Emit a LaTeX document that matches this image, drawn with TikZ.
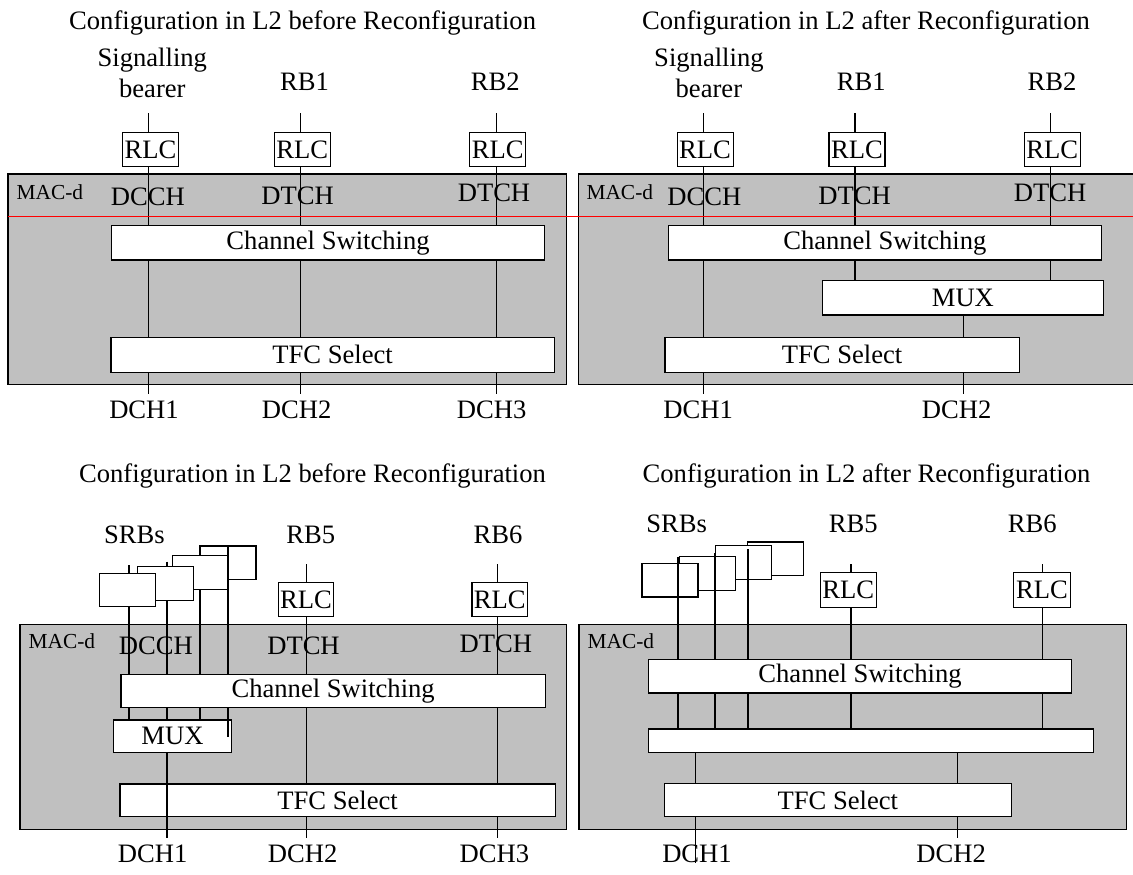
\documentclass[tikz,border=0pt]{standalone}
\usepackage{fontspec}
\setmainfont{Liberation Serif}
\definecolor{macgray}{HTML}{C0C0C0}
\newcommand{\labelfont}{\fontsize{26.6}{31.5}\selectfont}
\newcommand{\macfont}{\fontsize{21.4}{25}\selectfont}

\begin{document}
\begin{tikzpicture}[
		x=1pt, y=-1pt,
		macbox/.style={draw, fill=macgray, line width=1.2pt, inner sep=0pt},
		funcbox/.style={draw, fill=white, line width=1.2pt, inner sep=0pt, font=\labelfont},
		rlcbox/.style={funcbox, minimum width=56pt, minimum height=34.3pt},
		srbbox/.style={draw, fill=white, line width=1.2pt, inner sep=0pt, minimum width=56pt, minimum height=33.5pt},
		txt/.style={inner sep=0pt, anchor=base, font=\labelfont},
		mactxt/.style={inner sep=0pt, anchor=base west, font=\macfont},
		link/.style={line width=1.2pt},
		srblink/.style={line width=1.7pt},
		reconf/.style={red, line width=1.2pt}
	]
		\clip (0,0) rectangle (1133,875);

		\node[macbox, minimum width=558.4pt, minimum height=210.3pt] (mac1) at (287.2,279.15) {};
		\node[mactxt] (macd1) at (16.4,199) {MAC-d};
		\node[txt] (cap1) at (302.6,29.3) {Configuration in L2 before Reconfiguration};
		\node[txt, align=center] (sig1) at (152.3,97.5) {Signalling\\bearer};
		\node[txt] (rb1a) at (304.5,90) {RB1};
		\node[txt] (rb2a) at (495.3,90) {RB2};
		\node[txt] (dcch1) at (147.8,205) {DCCH};
		\node[txt] (dtch1b) at (297.7,204) {DTCH};
		\node[txt] (dtch1c) at (494,201.7) {DTCH};
		\node[txt] (dch1a) at (144,418.7) {DCH1};
		\node[txt] (dch1b) at (296.6,418.7) {DCH2};
		\node[txt] (dch1c) at (491.7,418.7) {DCH3};
		\node[rlcbox] (rlc1a) at (150.5,149.5) {RLC};
		\node[rlcbox] (rlc1b) at (302.3,149.5) {RLC};
		\node[rlcbox] (rlc1c) at (497.8,149.5) {RLC};
		\node[funcbox, minimum width=432.9pt, minimum height=34.3pt] (cs1) at (328.05,242.85) {Channel Switching};
		\node[funcbox, minimum width=443.5pt, minimum height=35pt] (tfc1) at (332.65,354.8) {TFC Select};
		\coordinate (top1a) at (148.3,113.3);
		\coordinate (top1b) at (300.3,113.3);
		\coordinate (top1c) at (496.2,113.3);
		\coordinate (bot1a) at (148.3,394);
		\coordinate (bot1b) at (300.3,394);
		\coordinate (bot1c) at (496.2,394);
		\draw[link] (top1a) -- (top1a |- rlc1a.north) (top1a |- rlc1a.south) -- (top1a |- cs1.north)
			(top1a |- cs1.south) -- (top1a |- tfc1.north) (top1a |- tfc1.south) -- (bot1a);
		\draw[link] (top1b) -- (top1b |- rlc1b.north) (top1b |- rlc1b.south) -- (top1b |- cs1.north)
			(top1b |- cs1.south) -- (top1b |- tfc1.north) (top1b |- tfc1.south) -- (bot1b);
		\draw[link] (top1c) -- (top1c |- rlc1c.north) (top1c |- rlc1c.south) -- (top1c |- cs1.north)
			(top1c |- cs1.south) -- (top1c |- tfc1.north) (top1c |- tfc1.south) -- (bot1c);

		\node[macbox, minimum width=561.7pt, minimum height=210.3pt] (mac2) at (859.15,279.15) {};
		\node[mactxt] (macd2) at (586.3,199) {MAC-d};
		\node[txt] (cap2) at (866,29.3) {Configuration in L2 after Reconfiguration};
		\node[txt, align=center] (sig2) at (708.9,97.5) {Signalling\\bearer};
		\node[txt] (rb1b) at (861.3,90) {RB1};
		\node[txt] (rb2b) at (1051.9,90) {RB2};
		\node[txt] (dcch2) at (704.4,205) {DCCH};
		\node[txt] (dtch2b) at (854.6,204) {DTCH};
		\node[txt] (dtch2c) at (1050,201.7) {DTCH};
		\node[txt] (dch2a) at (698.1,418.7) {DCH1};
		\node[txt] (dch2d) at (956.7,418.7) {DCH2};
		\node[rlcbox] (rlc2a) at (705.1,149.5) {RLC};
		\node[rlcbox] (rlc2b) at (856.9,149.5) {RLC};
		\node[rlcbox] (rlc2c) at (1052.2,149.5) {RLC};
		\node[funcbox, minimum width=432.7pt, minimum height=34.3pt] (cs2) at (884.85,242.85) {Channel Switching};
		\node[funcbox, minimum width=281pt, minimum height=34.3pt] (mux2) at (962.9,297.85) {MUX};
		\node[funcbox, minimum width=354.4pt, minimum height=35pt] (tfc2) at (842.1,354.8) {TFC Select};
		\coordinate (top2a) at (703.3,113.3);
		\coordinate (top2b) at (854.9,113.3);
		\coordinate (top2c) at (1050.4,113.3);
		\coordinate (bot2a) at (703.3,394);
		\coordinate (bot2d) at (963.8,394);
		\draw[link] (top2a) -- (top2a |- rlc2a.north) (top2a |- rlc2a.south) -- (top2a |- cs2.north)
			(top2a |- cs2.south) -- (top2a |- tfc2.north) (top2a |- tfc2.south) -- (bot2a);
		\draw[link] (top2b) -- (top2b |- rlc2b.north) (top2b |- rlc2b.south) -- (top2b |- cs2.north)
			(top2b |- cs2.south) -- (top2b |- mux2.north);
		\draw[link] (top2c) -- (top2c |- rlc2c.north) (top2c |- rlc2c.south) -- (top2c |- cs2.north)
			(top2c |- cs2.south) -- (top2c |- mux2.north);
		\draw[link] (bot2d |- mux2.south) -- (bot2d |- tfc2.north) (bot2d |- tfc2.south) -- (bot2d);

		\coordinate (redl) at (8,216.7);
		\coordinate (redr) at (1133,216.7);
		\draw[reconf] (redl) -- (redr);

		\node[macbox, minimum width=546.4pt, minimum height=205pt] (mac3) at (293.2,726.8) {};
		\node[mactxt] (macd3) at (28.4,648.3) {MAC-d};
		\node[txt] (cap3) at (312.5,482.7) {Configuration in L2 before Reconfiguration};
		\node[txt] (srbs3) at (134.5,543.3) {SRBs};
		\node[txt] (rb5a) at (310.8,543.3) {RB5};
		\node[txt] (rb6a) at (498.1,543.3) {RB6};
		\node[txt] (dcch3) at (155.8,654.3) {DCCH};
		\node[txt] (dtch3b) at (303.5,654.3) {DTCH};
		\node[txt] (dtch3c) at (495.9,652.7) {DTCH};
		\node[txt] (dch3a) at (152.7,862.5) {DCH1};
		\node[txt] (dch3b) at (302.6,862.5) {DCH2};
		\node[txt] (dch3c) at (494.4,862.5) {DCH3};
		\coordinate (top3s1) at (129.3,565);
		\coordinate (top3s2) at (167,561.7);
		\coordinate (top3s3) at (200,589.3);
		\coordinate (top3s4) at (227.7,546);
		\coordinate (end3s4) at (227.7,736.7);
		\coordinate (bot3s2) at (167,838.3);
		\coordinate (top3b) at (306.4,564.3);
		\coordinate (top3c) at (497.3,564.3);
		\coordinate (bot3b) at (306.4,838.3);
		\coordinate (bot3c) at (497.3,838.3);
		\node[funcbox, minimum width=424.3pt, minimum height=33.4pt] (cs3) at (333.15,691) {Channel Switching};
		\node[funcbox, minimum width=118.4pt, minimum height=32.7pt] (mux3) at (172.5,736.35) {MUX};
		\node[funcbox, minimum width=435.1pt, minimum height=32.7pt] (tfc3) at (337.55,800.35) {TFC Select};
		\draw[srblink] (top3s1) -- (top3s1 |- cs3.north) (top3s1 |- cs3.south) -- (top3s1 |- mux3.north);
		\draw[srblink] (top3s2) -- (top3s2 |- cs3.north) (top3s2 |- cs3.south) -- (top3s2 |- mux3.north);
		\draw[srblink] (top3s3) -- (top3s3 |- cs3.north) (top3s3 |- cs3.south) -- (top3s3 |- mux3.north);
		\node[srbbox] (srb3d) at (228,562.65) {};
		\node[srbbox] (srb3c) at (200.2,572.5) {};
		\node[srbbox] (srb3b) at (165.3,583.35) {};
		\node[srbbox] (srb3a) at (127.5,590) {};
		\draw[srblink] (top3s4) -- (top3s4 |- cs3.north) (top3s4 |- cs3.south) -- (end3s4);
		\draw[srblink] (bot3s2 |- mux3.south) -- (bot3s2);
		\node[rlcbox, minimum width=55.6pt, minimum height=34pt] (rlc3b) at (305.9,599.7) {RLC};
		\node[rlcbox, minimum width=55.6pt, minimum height=34pt] (rlc3c) at (499.8,599.7) {RLC};
		\draw[link] (top3b) -- (top3b |- rlc3b.north) (top3b |- rlc3b.south) -- (top3b |- cs3.north)
			(top3b |- cs3.south) -- (top3b |- tfc3.north) (top3b |- tfc3.south) -- (bot3b);
		\draw[link] (top3c) -- (top3c |- rlc3c.north) (top3c |- rlc3c.south) -- (top3c |- cs3.north)
			(top3c |- cs3.south) -- (top3c |- tfc3.north) (top3c |- tfc3.south) -- (bot3c);

		\node[macbox, minimum width=547.4pt, minimum height=205pt] (mac4) at (852.7,726.8) {};
		\node[mactxt] (macd4) at (587.4,648.3) {MAC-d};
		\node[txt] (cap4) at (866.5,482.7) {Configuration in L2 after Reconfiguration};
		\node[txt] (srbs4) at (676.7,532.7) {SRBs};
		\node[txt] (rb5b) at (853.3,532.7) {RB5};
		\node[txt] (rb6b) at (1032.2,532.7) {RB6};
		\node[txt] (dch4a) at (697,862.5) {DCH1};
		\node[txt] (dch4d) at (951.2,862.5) {DCH2};
		\node[srbbox] (srb4d) at (775.65,558.8) {};
		\node[srbbox] (srb4c) at (743.85,562.5) {};
		\node[srbbox] (srb4b) at (707.85,573.5) {};
		\node[srbbox] (srb4a) at (670,580.15) {};
		\node[rlcbox, minimum width=56.3pt, minimum height=34.6pt] (rlc4b) at (848.35,590) {RLC};
		\node[rlcbox, minimum width=56.3pt, minimum height=34.6pt] (rlc4c) at (1042,590) {RLC};
		\node[funcbox, minimum width=423.2pt, minimum height=33.5pt] (cs4) at (860,676.25) {Channel Switching};
		\node[funcbox, minimum width=445.1pt, minimum height=23.7pt] (bus4) at (870.95,740.85) {};
		\node[funcbox, minimum width=347.6pt, minimum height=33.4pt] (tfc4) at (837.9,800) {TFC Select};
		\coordinate (top4s1) at (677.7,556.7);
		\coordinate (top4s2) at (714.7,553.3);
		\coordinate (top4s3) at (748,549);
		\coordinate (top4b) at (850.9,564.3);
		\coordinate (top4c) at (1042.4,564.3);
		\coordinate (bot4a) at (695.3,863.3);
		\coordinate (bot4d) at (957.6,838.3);
		\draw[srblink] (top4s1) -- (top4s1 |- cs4.north) (top4s1 |- cs4.south) -- (top4s1 |- bus4.north);
		\draw[srblink] (top4s2) -- (top4s2 |- cs4.north) (top4s2 |- cs4.south) -- (top4s2 |- bus4.north);
		\draw[srblink] (top4s3) -- (top4s3 |- cs4.north) (top4s3 |- cs4.south) -- (top4s3 |- bus4.north);
		\draw[link] (top4b) -- (top4b |- rlc4b.north) (top4b |- rlc4b.south) -- (top4b |- cs4.north)
			(top4b |- cs4.south) -- (top4b |- bus4.north);
		\draw[link] (top4c) -- (top4c |- rlc4c.north) (top4c |- rlc4c.south) -- (top4c |- cs4.north)
			(top4c |- cs4.south) -- (top4c |- bus4.north);
		\draw[link] (bot4a |- bus4.south) -- (bot4a |- tfc4.north) (bot4a |- tfc4.south) -- (bot4a);
		\draw[link] (bot4d |- bus4.south) -- (bot4d |- tfc4.north) (bot4d |- tfc4.south) -- (bot4d);
	\end{tikzpicture}
\end{document}
